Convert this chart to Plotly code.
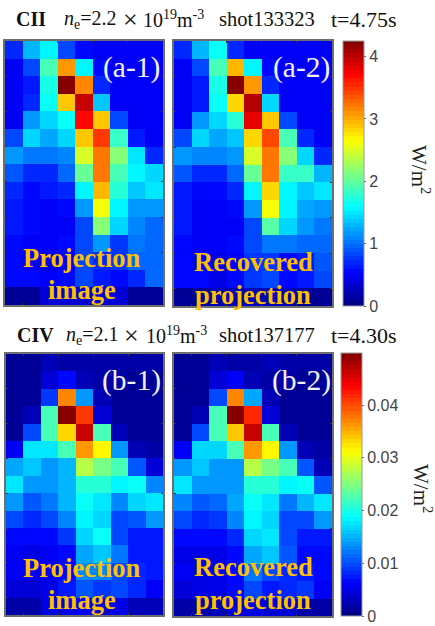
import plotly.graph_objects as go

# Emission in W/m^2, top row first
a1 = [
 [.72,1.28,1.57,.85,.55,.53,.53,.53,.53],
 [.48,.85,1.91,3.06,1.53,.55,.53,.53,.53],
 [.48,.66,1.70,4.25,3.15,.68,.53,.53,.53],
 [.48,.68,1.62,2.89,3.95,1.36,.53,.53,.53],
 [.48,1.15,1.40,1.62,3.70,2.89,.85,.53,.53],
 [.85,1.40,1.23,1.40,2.89,3.49,1.83,.66,.53],
 [1.15,1.06,1.06,1.11,2.47,3.19,2.13,1.49,.72],
 [.89,.72,.72,.94,2.04,3.19,1.91,1.57,1.45],
 [.68,.58,.66,.72,1.53,2.93,1.79,1.36,1.49],
 [.66,.55,.53,.58,1.15,2.60,1.57,1.15,1.15],
 [.66,.55,.48,.53,.85,2.13,1.40,1.11,.98],
 [.58,.53,.48,.55,.81,1.19,.77,1.02,.94],
 [.58,.53,.45,.53,.85,.68,.77,.98,.98],
 [.58,.58,.53,.58,.85,.66,.58,.72,.98],
 [.13,.13,.34,.34,.34,.34,.34,.13,.13],
]
a2 = [
 [.72,1.28,1.60,.68,.53,.53,.53,.53,.53],
 [.48,.85,1.87,2.95,1.53,.55,.53,.53,.53],
 [.48,.66,1.70,4.25,3.10,.68,.53,.52,.52],
 [.48,.66,1.60,2.85,4.00,1.40,.53,.52,.52],
 [.48,1.15,1.40,1.75,3.80,2.87,.85,.53,.52],
 [.85,1.40,1.25,1.36,2.80,3.40,1.87,.68,.53],
 [1.15,1.10,1.10,1.15,2.47,3.25,2.13,1.45,.68],
 [.89,.72,.72,.94,2.04,3.20,1.85,1.80,1.30],
 [.62,.55,.58,.72,1.55,2.85,1.55,1.35,1.50],
 [.62,.53,.52,.58,1.15,2.65,1.55,1.20,1.15],
 [.62,.53,.48,.53,.80,1.98,1.45,1.15,1.05],
 [.58,.53,.48,.55,.81,1.05,1.00,.95,.94],
 [.58,.53,.45,.53,.75,.75,.58,.62,.90],
 [.58,.58,.46,.58,.75,.80,.58,.62,.80],
 [.13,.13,.20,.20,.20,.20,.20,.13,.13],
]
# Emission in mW/m^2, top row first
b1 = [
 [1.5,1.5,2.5,2,2,2,2,2,2],
 [1.5,1.5,4.4,6.4,2.9,2,2,1.5,1.5],
 [1.5,1.5,9.3,36.8,13.7,2.5,1.5,1.5,1.5],
 [1.5,2.9,22.4,49.9,41,4.4,1.5,1.5,1.5],
 [1.5,9.8,22.4,32.8,46.4,22.4,2.9,1.5,1.5],
 [5.9,17.4,17.4,22.4,35.9,31.9,13.9,2.9,2],
 [14.4,15.9,13.9,14.9,27.4,24.9,22.4,10.9,3.9],
 [17.9,13.9,13.9,14.9,20.9,20.4,18.4,18.9,12.9],
 [13.4,10.9,12.4,15.4,18.9,17.9,12.9,16.4,17.4],
 [9.4,8.4,9.4,12.9,18.4,16.4,9.9,10.9,13.9],
 [6.9,6.9,6.9,8.9,16.4,18.9,9.4,7.4,7.4],
 [5.9,5.4,5.9,6.9,14.4,15.9,11.9,7.4,7.4],
 [5.9,5.9,5.9,6.9,12.9,12.9,9.9,7.9,7.4],
 [4.4,4.4,4.9,7.4,10.9,8.9,9.4,8.4,5.9],
 [2,2,4.9,4.9,5.9,4.4,4.9,2.5,2.5],
]
b2 = [
 [1.5,1.5,2.5,2,2,2.5,2,2,2],
 [1.5,1.5,3.9,5.9,2.5,2,2,1.5,1.5],
 [1.5,1.5,9.9,36.8,14.4,2.5,1.5,1.5,1.5],
 [1.5,2.9,22.4,49.9,41.5,3.9,1.5,1.5,1.5],
 [1.5,9.9,22.4,33.9,46.4,22.4,2.9,1.5,1.5],
 [5.9,16.4,16.4,22.4,35.9,31.9,13.9,2.9,2],
 [13.4,15.9,13.4,13.9,27.4,24.9,21.9,10.4,2.9],
 [17.4,13.9,13.9,13.9,20.9,20.4,18.4,18.9,10.4],
 [12.9,10.4,11.4,14.4,18.9,17.9,11.9,15.4,17.9],
 [9.4,7.9,8.9,12.9,18.4,16.9,9.4,9.9,13.9],
 [6.9,6.4,6.4,8.4,16.4,17.9,9.4,7.4,7.4],
 [5.4,5.4,5.4,6.9,14.4,15.9,10.9,6.9,6.9],
 [5.9,5.4,5.4,6.9,11.9,9.9,7.9,7.4,6.9],
 [4.4,4.9,4.9,6.9,9.4,7.4,8.4,8.9,5.9],
 [2,2,2.5,4.4,4.9,4.4,3.9,2,2],
]
a_max = 4.25
b_max = 49.9
a_ticks = [0, 1, 2, 3, 4]
b_ticks = [0, 10, 20, 30, 40]
b_labels = ["0", "0.01", "0.02", "0.03", "0.04"]
header_a = ["<b>CII</b>", "<i>n</i><sub>e</sub>=2.2", "×", "10<sup>19</sup>m<sup>-3</sup>", "shot133323", "t=4.75s"]
header_b = ["<b>CIV</b>", "<i>n</i><sub>e</sub>=2.1", "×", "10<sup>19</sup>m<sup>-3</sup>", "shot137177", "t=4.30s"]

W, H = 435, 626
def fx(p): return p / W
def fy(p): return 1 - p / H

def jet(n=64):
    out = []
    def c(v): return max(0.0, min(1.0, v))
    for i in range(n):
        t = (i + .5) / n
        r = c(min(4*t-1.5, -4*t+4.5)); g = c(min(4*t-.5, -4*t+3.5)); b = c(min(4*t+.5, -4*t+2.5))
        col = f"rgb({int(r*255)},{int(g*255)},{int(b*255)})"
        out += [[i/n, col], [(i+1)/n, col]]
    return out

panels = [
 (a1, (5, 163, 41, 305), "coloraxis"),
 (a2, (174, 332, 41, 306), "coloraxis"),
 (b1, (6, 163, 354, 615), "coloraxis2"),
 (b2, (174, 332, 354, 616), "coloraxis2"),
]
fig = go.Figure()
layout = {}
for i, (z, (x0, x1, y0, y1), ca) in enumerate(panels, 1):
    s = "" if i == 1 else str(i)
    fig.add_trace(go.Heatmap(z=z, coloraxis=ca, xaxis="x"+s, yaxis="y"+s))
    common = dict(showgrid=False, zeroline=False, showline=True, linecolor="#6e6e6e", linewidth=1.5,
                  mirror="ticks", ticks="inside", ticklen=2, tickcolor="#333", showticklabels=False)
    layout["xaxis"+s] = dict(domain=[fx(x0), fx(x1)], range=[-.5, 8.5], tickvals=[.5, 2.5, 4.5, 6.5], anchor="y"+s, **common)
    layout["yaxis"+s] = dict(domain=[fy(y1), fy(y0)], range=[14.5, -.5], tickvals=[1.5, 3.5, 5.5, 7.5, 9.5, 11.5, 13.5], anchor="x"+s, **common)

def cbar(py0, py1, px, vals, labels):
    return dict(x=fx(px), xanchor="left", xref="paper", y=fy(py1), yanchor="bottom", yref="paper",
                len=(py1-py0)/H, lenmode="fraction", thickness=21, thicknessmode="pixels",
                outlinecolor="#999", outlinewidth=1, ticks="outside", ticklen=2, tickcolor="#666",
                tickvals=vals, ticktext=labels,
                tickfont=dict(family="Liberation Sans", size=16, color="#444"), xpad=0, ypad=0)

ann = []
def text(px, py, t, size, color, family="Liberation Serif", angle=0, anchor="center"):
    ann.append(dict(x=fx(px), y=fy(py), xref="paper", yref="paper", text=t, showarrow=False, textangle=angle,
                    xanchor=anchor, yanchor="middle", font=dict(family=family, size=size, color=color)))
for parts, py, xs in [(header_a, 19, (14, 62, 121, 141, 217, 329)), (header_b, 335, (15, 64, 122, 144, 217, 329))]:
    for j, (t, px) in enumerate(zip(parts, xs)):
        size = 26 if t == "×" else 22 if j == 5 else 20.5 if j == 4 else 20
        text(px, py, t, size, "#111", anchor="left")
for px, py, t in [(131, 67, "(a-1)"), (301, 67, "(a-2)"), (131, 380, "(b-1)"), (301, 380, "(b-2)")]:
    text(px, py, t, 29.5, "#f0f0f8")
orange = "#FFC000"
for px, py, t in [(82, 258, "Projection"), (82, 290, "image"), (253, 262, "Recovered"), (253, 295, "projection"),
                  (82, 568, "Projection"), (82, 600, "image"), (253, 567, "Recovered"), (253, 600, "projection")]:
    text(px, py, f"<b>{t}</b>", 26.5, orange)
text(421, 169, "W/m<sup>2</sup>", 21, "#222", angle=90)
text(423, 488, "W/m<sup>2</sup>", 21, "#222", angle=90)

fig.update_layout(
    width=W, height=H, margin=dict(l=0, r=0, t=0, b=0), paper_bgcolor="white", plot_bgcolor="white",
    annotations=ann,
    coloraxis=dict(colorscale=jet(), cmin=0, cmax=a_max,
                   colorbar=cbar(41, 306, 343, a_ticks, [str(v) for v in a_ticks])),
    coloraxis2=dict(colorscale=jet(), cmin=0, cmax=b_max,
                    colorbar=cbar(353, 616, 341, b_ticks, b_labels)),
    **layout,
)
fig.write_html("out.html", post_script="document.body.style.margin='0';", config=dict(displayModeBar=False))
